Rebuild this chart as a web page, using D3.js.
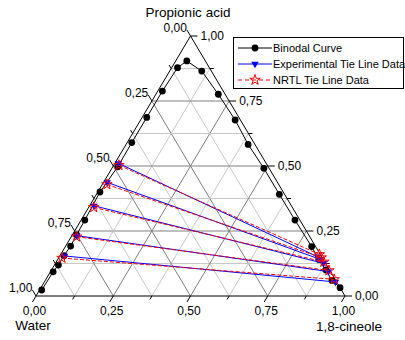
<!DOCTYPE html>
<html>
<head>
<meta charset="utf-8">
<script src="https://cdn.jsdelivr.net/npm/d3@7"></script>
<style>
  html, body { margin: 0; padding: 0; background: #fff; }
  text { font-family: Arial, "Liberation Sans", sans-serif; fill: #000; }
</style>
</head>
<body>
<div id="chart"></div>
<script>
// binodal curve, mass fractions (water = 1 - acid - cineole)
const binodalAcid = [0.023, 0.093, 0.119, 0.155, 0.192, 0.235, 0.292, 0.400, 0.497, 0.590, 0.687, 0.788, 0.878, 0.904,
  0.865, 0.776, 0.677, 0.583, 0.491, 0.391, 0.292, 0.190, 0.140, 0.100, 0.060, 0.032];
const binodalCineole = [0.007, 0.009, 0.013, 0.013, 0.016, 0.014, 0.012, 0.007, 0.016, 0.015, 0.015, 0.015, 0.019, 0.036,
  0.104, 0.202, 0.306, 0.395, 0.492, 0.592, 0.692, 0.797, 0.845, 0.888, 0.928, 0.968];

// experimental tie lines: aqueous end / organic end
const expAqAcid = [0.510, 0.437, 0.347, 0.232, 0.154];
const expAqCineole = [0.012, 0.012, 0.014, 0.016, 0.015];
const expOrgAcid = [0.151, 0.141, 0.126, 0.094, 0.054];
const expOrgCineole = [0.836, 0.849, 0.867, 0.899, 0.942];

// NRTL tie lines
const nrtlAqAcid = [0.503, 0.429, 0.341, 0.228, 0.146];
const nrtlAqCineole = [0.017, 0.015, 0.016, 0.017, 0.011];
const nrtlOrgAcid = [0.160, 0.148, 0.131, 0.098, 0.064];
const nrtlOrgCineole = [0.837, 0.849, 0.866, 0.899, 0.933];

const tickValues = d3.range(0, 9).map(k => k / 8);
const legendLabels = ["Binodal Curve", "Experimental Tie Line Data", "NRTL Tie Line Data"];

const width = 405, height = 340;
const xs = d3.scaleLinear().domain([0, 1]).range([36, 345]);
const ys = d3.scaleLinear().domain([0, 1]).range([296, 36]);
const pos = (acid, cineole) => [xs(cineole + acid / 2), ys(acid)];
const fmt = d3.formatLocale({decimal: ",", thousands: ".", grouping: [3], currency: ["", ""]}).format(".2f");

const svg = d3.select("#chart").append("svg")
  .attr("width", width)
  .attr("height", height);

const addLine = (a, b, color) => svg.append("line")
  .attr("x1", a[0]).attr("y1", a[1])
  .attr("x2", b[0]).attr("y2", b[1])
  .attr("stroke", color)
  .attr("stroke-width", 1);

// grid lines
tickValues.slice(1, -1).forEach((v, i) => {
  const color = i % 2 === 1 ? "#808080" : "#c8c8c8";
  addLine(pos(v, 0), pos(v, 1 - v), color);
  addLine(pos(0, v), pos(1 - v, v), color);
  addLine(pos(0, 1 - v), pos(1 - v, 0), color);
});

// triangle frame
const L = pos(0, 0), R = pos(0, 1), T = pos(1, 0);
svg.append("path")
  .attr("d", d3.line()([L, R, T]) + "Z")
  .attr("fill", "none")
  .attr("stroke", "#000")
  .attr("stroke-width", 1);

const unit = (a, b) => {
  const dx = b[0] - a[0], dy = b[1] - a[1], n = Math.hypot(dx, dy);
  return [dx / n, dy / n];
};
const uLeft = unit(R, T);
const uBottom = unit(T, L);

tickValues.forEach((v, k) => {
  const major = k % 2 === 0;
  const len = major ? 7 : 4;

  // right axis: propionic acid
  const br = pos(v, 1 - v);
  addLine(br, [br[0] + len, br[1]], "#000");
  // left axis: water
  const bl = pos(1 - v, 0);
  const el = [bl[0] + uLeft[0] * len, bl[1] + uLeft[1] * len];
  addLine(bl, el, "#000");
  // bottom axis: 1,8-cineole
  const bb = pos(0, v);
  const eb = [bb[0] + uBottom[0] * len, bb[1] + uBottom[1] * len];
  addLine(bb, eb, "#000");

  if (major) {
    svg.append("text").attr("x", br[0] + len + 3).attr("y", br[1]).attr("dy", "0.35em")
      .attr("font-size", 12).text(fmt(v));
    svg.append("text").attr("x", el[0]).attr("y", el[1] + 2).attr("text-anchor", "end")
      .attr("font-size", 12).text(fmt(v));
    svg.append("text").attr("x", eb[0] + 2).attr("y", eb[1] + 13).attr("text-anchor", "middle")
      .attr("font-size", 12).text(fmt(v));
  }
});

// titles
svg.append("text").attr("x", 188).attr("y", 17).attr("text-anchor", "middle")
  .attr("font-size", 13.5).text("Propionic acid");
svg.append("text").attr("x", 33).attr("y", 330).attr("text-anchor", "middle")
  .attr("font-size", 13.5).text("Water");
svg.append("text").attr("x", 349).attr("y", 331).attr("text-anchor", "middle")
  .attr("font-size", 13.5).text("1,8-cineole");

// binodal curve
const binodal = binodalAcid.map((a, i) => pos(a, binodalCineole[i]));
svg.append("path")
  .attr("d", d3.line()(binodal))
  .attr("fill", "none")
  .attr("stroke", "#000")
  .attr("stroke-width", 1);
svg.selectAll(".bin").data(binodal).join("circle")
  .attr("class", "bin")
  .attr("cx", d => d[0]).attr("cy", d => d[1])
  .attr("r", 3.4)
  .attr("fill", "#000");

const triangle = d3.symbol(d3.symbolTriangle, 24);
const star = d3.symbol(d3.symbolStar, 34);

// experimental tie lines
expAqAcid.forEach((a, i) => {
  const p1 = pos(a, expAqCineole[i]);
  const p2 = pos(expOrgAcid[i], expOrgCineole[i]);
  addLine(p1, p2, "#0000ff");
  [p1, p2].forEach(p => svg.append("path")
    .attr("d", triangle())
    .attr("transform", `translate(${p[0]},${p[1]}) rotate(180)`)
    .attr("fill", "#0000ff"));
});

// NRTL tie lines
nrtlAqAcid.forEach((a, i) => {
  const p1 = pos(a, nrtlAqCineole[i]);
  const p2 = pos(nrtlOrgAcid[i], nrtlOrgCineole[i]);
  addLine(p1, p2, "#ff0000").attr("stroke-dasharray", "4,2");
  [p1, p2].forEach(p => svg.append("path")
    .attr("d", star())
    .attr("transform", `translate(${p[0]},${p[1]})`)
    .attr("fill", "none")
    .attr("stroke", "#ff0000")
    .attr("stroke-width", 1));
});

// legend
const legend = svg.append("g").attr("transform", "translate(233,37)");
legend.append("rect")
  .attr("x", 0.5).attr("y", 0.5)
  .attr("width", 170).attr("height", 51)
  .attr("fill", "#fff")
  .attr("stroke", "#000")
  .attr("stroke-width", 1);
legendLabels.forEach((label, i) => {
  const y = 11 + i * 16;
  const colors = ["#000", "#0000ff", "#ff0000"];
  const ln = legend.append("line")
    .attr("x1", 5).attr("x2", 39).attr("y1", y).attr("y2", y)
    .attr("stroke", colors[i]).attr("stroke-width", 1);
  if (i === 0) {
    legend.append("circle").attr("cx", 22).attr("cy", y).attr("r", 3.4).attr("fill", "#000");
  } else if (i === 1) {
    legend.append("path").attr("d", triangle())
      .attr("transform", `translate(22,${y}) rotate(180)`).attr("fill", "#0000ff");
  } else {
    ln.attr("stroke-dasharray", "4,3");
    legend.append("path").attr("d", star())
      .attr("transform", `translate(22,${y})`)
      .attr("fill", "none").attr("stroke", "#ff0000");
  }
  legend.append("text").attr("x", 40).attr("y", y).attr("dy", "0.35em")
    .attr("font-size", 11).text(label);
});
</script>
</body>
</html>
